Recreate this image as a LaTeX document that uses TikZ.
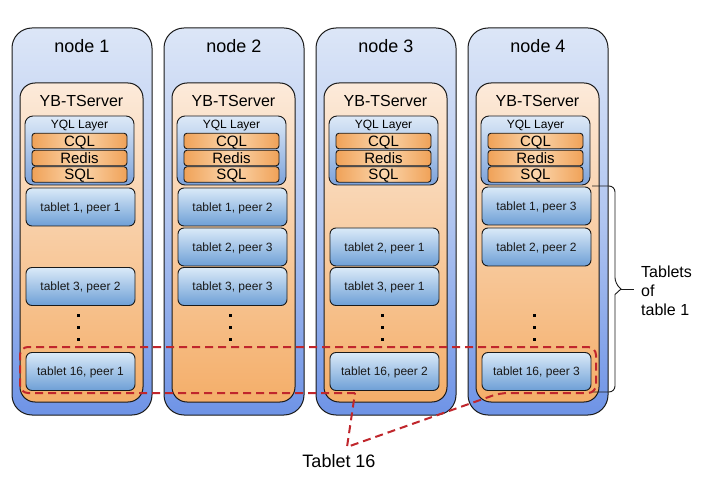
\documentclass[tikz,border=0pt]{standalone}
\usepackage{fontspec}
\setmainfont{Liberation Sans}
\definecolor{nblueT}{HTML}{DCE6F7}
\definecolor{nblueB}{HTML}{6E93E6}
\definecolor{orT}{HTML}{FCEADA}
\definecolor{orB}{HTML}{F4AE69}
\definecolor{yqlT}{HTML}{DDE9F7}
\definecolor{yqlB}{HTML}{7CA2DA}
\definecolor{tabT}{HTML}{DAEAF8}
\definecolor{tabB}{HTML}{6E9FD6}
\definecolor{langE}{HTML}{F0A258}
\definecolor{langM}{HTML}{FBD6AD}
\definecolor{dashred}{HTML}{C0262C}
\definecolor{edge}{HTML}{1A1A1A}
\begin{document}
\begin{tikzpicture}[x=1pt,y=-1pt,
  nodebox/.style={draw=edge, line width=1pt, rounded corners=20pt, top color=nblueT, bottom color=nblueB, middle color=nblueT!60!nblueB, minimum width=140pt, minimum height=387pt, inner sep=0pt, outer sep=0pt, anchor=north west},
  tsbox/.style={draw=edge, line width=1pt, rounded corners=15pt, top color=orT, bottom color=orB, minimum width=123pt, minimum height=319pt, inner sep=0pt, outer sep=0pt, anchor=north west},
  yqlbox/.style={draw=edge, line width=0.9pt, rounded corners=8pt, top color=yqlT, bottom color=yqlB, minimum width=109pt, minimum height=69pt, inner sep=0pt, outer sep=0pt, anchor=north west},
  langbox/.style={draw=edge, line width=0.9pt, rounded corners=3pt, left color=langE, right color=langE, middle color=langM, minimum width=95pt, minimum height=15.5pt, inner sep=0pt, outer sep=0pt, font=\fontsize{15}{15}\selectfont, text height=10.8pt, text depth=0pt},
  tabbox/.style={draw=edge, line width=0.9pt, rounded corners=6pt, top color=tabT, bottom color=tabB, minimum width=109pt, minimum height=38pt, inner sep=0pt, outer sep=0pt, font=\fontsize{12}{12}\selectfont, text=black!90, text height=8.6pt, text depth=0pt},
  titletext/.style={font=\fontsize{18}{18}\selectfont, inner sep=0pt, text height=13pt, text depth=0pt},
  tstext/.style={font=\fontsize{16}{16}\selectfont, inner sep=0pt, text height=11.5pt, text depth=0pt},
  yqltext/.style={font=\fontsize{12}{12}\selectfont, inner sep=0pt, text height=8.6pt, text depth=0pt},
  dotsq/.style={fill=black, minimum size=3pt, inner sep=0pt, outer sep=0pt},
  tabletdash/.style={draw=dashred, line width=2pt, dash pattern=on 8pt off 5pt},
  bracelinestyle/.style={draw=edge, line width=0.9pt},
  labeltext/.style={font=\fontsize{16}{19}\selectfont, align=left, inner sep=0pt, anchor=west},
]
\useasboundingbox (0,0) rectangle (710,489);
\fill[white] (0,0) rectangle (710,489);

\foreach \i/\L in {1/12,2/164,3/316,4/468}{
  \node[nodebox] (n\i) at (\L,28) {};
  \node[titletext] (n\i t) at (\L+70,46) {node \i};
  \node[tsbox] (ts\i) at (\L+8,83) {};
  \node[tstext] (ts\i t) at (\L+69.5,101) {YB-TServer};
  \node[yqlbox] (yql\i) at (\L+13,116) {};
  \node[yqltext] (yql\i t) at (\L+67.5,124) {YQL Layer};
  \node[langbox] (cql\i) at (\L+67.5,141) {CQL};
  \node[langbox] (redis\i) at (\L+67.5,158) {Redis};
  \node[langbox] (sql\i) at (\L+67.5,174.5) {SQL};
  \node[dotsq] (d\i a) at (\L+66,316) {};
  \node[dotsq] (d\i b) at (\L+66,327.5) {};
  \node[dotsq] (d\i c) at (\L+66,339) {};
}

% node 1 tablets
\node[tabbox] (t1a) at (80.5,207) {tablet 1, peer 1};
\node[tabbox] (t1c) at (80.5,286.5) {tablet 3, peer 2};
\node[tabbox] (t1p) at (80.5,371.5) {tablet 16, peer 1};
% node 2 tablets
\node[tabbox] (t2a) at (232.5,207) {tablet 1, peer 2};
\node[tabbox] (t2b) at (232.5,247) {tablet 2, peer 3};
\node[tabbox] (t2c) at (232.5,286.5) {tablet 3, peer 3};
% node 3 tablets
\node[tabbox] (t3b) at (384.5,247) {tablet 2, peer 1};
\node[tabbox] (t3c) at (384.5,286.5) {tablet 3, peer 1};
\node[tabbox] (t3p) at (384.5,371.5) {tablet 16, peer 2};
% node 4 tablets
\node[tabbox] (t4a) at (536.5,206) {tablet 1, peer 3};
\node[tabbox] (t4b) at (536.5,247) {tablet 2, peer 2};
\node[tabbox] (t4p) at (536.5,371.5) {tablet 16, peer 3};

% brace
\coordinate (bt) at (592,186);
\coordinate (bb) at (592,392);
\coordinate (btip) at (621,289);
\coordinate (bend) at (634,289);
\draw[bracelinestyle, rounded corners=6pt] (bt) -- (615,186) -- (615,283.5) [sharp corners] -- (btip) -- (615,294.5) [rounded corners=6pt] -- (615,392) -- (bb);
\draw[bracelinestyle] (btip) -- (bend);
\node[labeltext] (lbl) at (641,291) {Tablets\\of\\table 1};

% Tablet 16 callout
\coordinate (ctip) at (347,447);
\draw[tabletdash, rounded corners=8pt] (355,393) -- (20,393) -- (20,347) -- (596,347) -- (596,393) -- (500,393) [sharp corners] -- (ctip) -- cycle;
\node[font=\fontsize{18}{18}\selectfont, inner sep=0pt, text height=13pt, text depth=0pt] (t16) at (339,461) {Tablet 16};
\end{tikzpicture}
\end{document}
